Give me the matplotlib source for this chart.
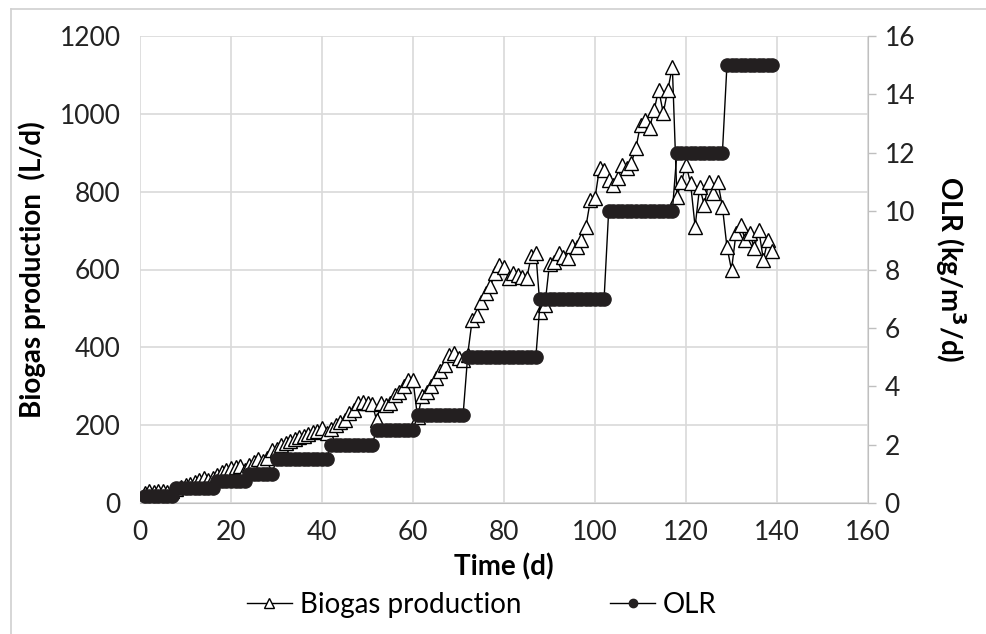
import matplotlib
matplotlib.use("Agg")
import matplotlib.pyplot as plt
from matplotlib.lines import Line2D

plt.rcParams['font.family'] = ['Lato', 'DejaVu Sans']

# ---- data ----
days = list(range(1, 140))

biogas = [25, 30, 28, 32, 30, 28, 32,
          35, 40, 45, 48, 55, 60, 65, 58, 65,
          72, 80, 85, 90, 92, 95, 85,
          98, 105, 112, 108, 115, 135,
          140, 150, 155, 160, 165, 170, 172, 178, 182, 185, 193, 180,
          190, 200, 208, 213, 230, 238, 258, 260, 258, 255,
          213, 257, 252, 257, 278, 285, 300, 316, 316,
          220, 275, 285, 300, 320, 340, 355, 380, 385, 372, 368,
          380, 470, 483, 516, 540, 557, 590, 611, 606, 578, 591, 586, 581, 578, 635, 642,
          491, 509, 615, 620, 642, 632, 630, 660, 658, 676, 710, 779, 784, 861, 855,
          830, 817, 835, 869, 861, 874, 913, 972, 985, 964, 1010, 1062, 1002, 1062, 1121,
          787, 825, 869, 822, 710, 812, 766, 825, 797, 825, 761,
          658, 599, 694, 715, 676, 694, 655, 702, 625, 676, 648]

olr = [0.25, 0.25, 0.25, 0.25, 0.25, 0.25, 0.25,
       0.5, 0.5, 0.5, 0.5, 0.5, 0.5, 0.5, 0.5, 0.5,
       0.75, 0.75, 0.75, 0.75, 0.75, 0.75, 0.75,
       1.0, 1.0, 1.0, 1.0, 1.0, 1.0,
       1.5, 1.5, 1.5, 1.5, 1.5, 1.5, 1.5, 1.5, 1.5, 1.5, 1.5, 1.5,
       2.0, 2.0, 2.0, 2.0, 2.0, 2.0, 2.0, 2.0, 2.0, 2.0,
       2.5, 2.5, 2.5, 2.5, 2.5, 2.5, 2.5, 2.5, 2.5,
       3.0, 3.0, 3.0, 3.0, 3.0, 3.0, 3.0, 3.0, 3.0, 3.0, 3.0,
       5.0, 5.0, 5.0, 5.0, 5.0, 5.0, 5.0, 5.0, 5.0, 5.0, 5.0, 5.0, 5.0, 5.0, 5.0, 5.0,
       7.0, 7.0, 7.0, 7.0, 7.0, 7.0, 7.0, 7.0, 7.0, 7.0, 7.0, 7.0, 7.0, 7.0, 7.0,
       10.0, 10.0, 10.0, 10.0, 10.0, 10.0, 10.0, 10.0, 10.0, 10.0, 10.0, 10.0, 10.0, 10.0, 10.0,
       12.0, 12.0, 12.0, 12.0, 12.0, 12.0, 12.0, 12.0, 12.0, 12.0, 12.0,
       15.0, 15.0, 15.0, 15.0, 15.0, 15.0, 15.0, 15.0, 15.0, 15.0, 15.0]

x_ticks = [0, 20, 40, 60, 80, 100, 120, 140, 160]
left_ticks = [0, 200, 400, 600, 800, 1000, 1200]
right_ticks = [0, 2, 4, 6, 8, 10, 12, 14, 16]

# ---- figure ----
W, H = 987, 634
fig = plt.figure(figsize=(W / 100, H / 100), dpi=100)
ax = fig.add_axes([140 / W, 1 - 503 / H, (868 - 140) / W, (503 - 36) / H])
ax2 = ax.twinx()

grid_c = '#d9d9d9'
spine_c = '#bfbfbf'
fs = 19
lfs = 20

ax.plot(days, biogas, color='black', lw=1.0, marker='^', markersize=10,
        markerfacecolor='white', markeredgecolor='black', markeredgewidth=1.0,
        label='Biogas production', zorder=3)
ax2.plot(days, olr, color='black', lw=1.0, marker='o', markersize=9.5,
         markerfacecolor='#231f20', markeredgecolor='#231f20',
         label='OLR', zorder=3)

ax.set_xlim(0, 160)
ax.set_ylim(0, 1200)
ax2.set_ylim(0, 16)
ax.set_xticks(x_ticks)
ax.set_yticks(left_ticks)
ax2.set_yticks(right_ticks)

ax.grid(True, color=grid_c, lw=1.2, zorder=0)
ax.set_axisbelow(True)

for a in (ax, ax2):
    for s in ('top', 'left'):
        a.spines[s].set_visible(False)
    a.spines['bottom'].set_color(spine_c)
    a.spines['right'].set_color(spine_c)
ax.spines['right'].set_visible(False)
ax2.spines['bottom'].set_visible(False)

ax.tick_params(axis='x', length=0, pad=12, labelsize=fs, colors='#222222')
ax.tick_params(axis='y', length=0, pad=14, labelsize=fs, colors='#222222')
ax2.tick_params(axis='y', length=6, width=1, color=spine_c, direction='out',
                pad=6, labelsize=fs, labelcolor='#222222')

ax.set_xlabel('Time (d)', fontsize=lfs, fontweight='bold', labelpad=6)
ax.set_ylabel('Biogas production  (L/d)', fontsize=lfs, fontweight='bold', labelpad=10)
ax2.set_ylabel('OLR (kg/m$^\\mathbf{3}$/d)', fontsize=lfs, fontweight='bold',
               rotation=270, labelpad=38)

h1, l1 = ax.get_legend_handles_labels()
h2, l2 = ax2.get_legend_handles_labels()
h1 = [Line2D([], [], color='black', lw=1.0, marker='^', markersize=7,
             markerfacecolor='white', markeredgecolor='black')]
h2 = [Line2D([], [], color='black', lw=1.0, marker='o', markersize=6,
             markerfacecolor='#231f20', markeredgecolor='#231f20')]
fig.legend(h1 + h2, l1 + l2, loc='center', bbox_to_anchor=(482 / W, 1 - 605 / H),
           ncol=2, frameon=False, fontsize=lfs, handlelength=1.6, handletextpad=0.3,
           columnspacing=3.2)

# chart area border (left and top visible)
fig.add_artist(Line2D([11 / W, 11 / W], [0, 1 - 9 / H], transform=fig.transFigure,
                      color='#d0d0d0', lw=1.2))
fig.add_artist(Line2D([11 / W, 1], [1 - 9 / H, 1 - 9 / H], transform=fig.transFigure,
                      color='#d0d0d0', lw=1.2))

fig.savefig('out.png', dpi=100)
